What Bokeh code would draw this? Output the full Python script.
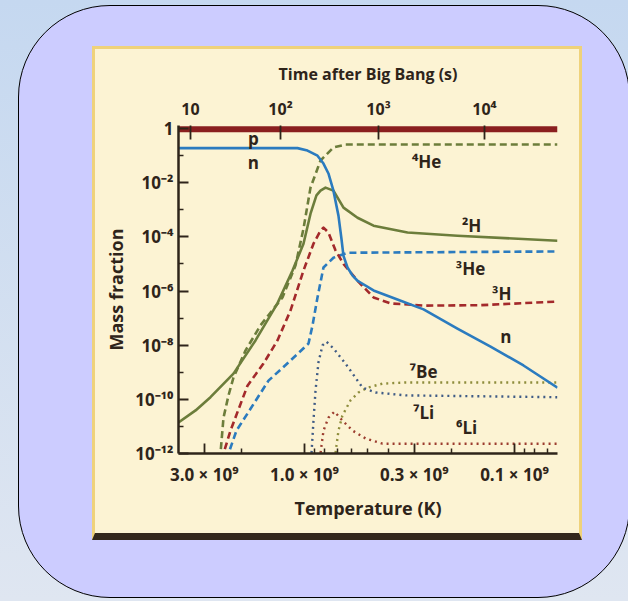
from bokeh.plotting import figure
from bokeh.layouts import column
from bokeh.models import (Range1d, LogAxis, FixedTicker, CustomJSTickFormatter,
                          ColumnDataSource)
from bokeh.embed import file_html
from bokeh.resources import INLINE
from bokeh.core.properties import value

# ---------------- data (temperature in units of 10^9 K, mass fraction) -------------
p_T = [3.98, 0.0624]
p_X = [0.95, 0.95]

n_T = [3.98, 1.080, 0.968, 0.867, 0.812, 0.769, 0.728, 0.689, 0.667, 0.652, 0.624,
       0.59, 0.559, 0.469, 0.361, 0.271, 0.187, 0.130, 0.0906, 0.0624]
n_X = [0.19, 0.19, 0.154, 0.10, 0.051, 0.022, 5.1e-3, 6.1e-4, 8.7e-5, 2.0e-5, 7.4e-6,
       3.7e-6, 2.4e-6, 1.05e-6, 4.9e-7, 2.1e-7, 4.1e-8, 8.9e-9, 1.78e-9, 2.7e-10]

He4_T = [2.596, 2.512, 2.43, 2.30, 2.178, 1.91, 1.62, 1.273, 1.104, 1.011, 0.936,
         0.839, 0.728, 0.638, 0.0624]
He4_X = [2.3e-13, 1e-12, 2.1e-11, 1.4e-10, 6.4e-10, 6.3e-9, 5.4e-8, 5.8e-7, 8.7e-6,
         2.0e-4, 6.6e-3, 0.066, 0.2, 0.257, 0.257]

H2_T = [3.98, 3.30, 2.803, 2.178, 1.711, 1.345, 1.14, 1.011, 0.936, 0.877, 0.839,
        0.794, 0.728, 0.652, 0.559, 0.469, 0.323, 0.187, 0.0624]
H2_X = [1.4e-11, 3.9e-11, 1.2e-10, 8.9e-10, 1.5e-8, 3.5e-7, 5.7e-6, 5.6e-5, 7.2e-4,
        3.4e-3, 5.1e-3, 6.6e-3, 5.1e-3, 1.2e-3, 5.1e-4, 2.6e-4, 1.45e-4, 1.1e-4, 7.2e-5]

H3_T = [2.512, 2.43, 2.251, 1.868, 1.568, 1.345, 1.166, 1.011, 0.906, 0.839, 0.812,
        0.769, 0.712, 0.652, 0.559, 0.469, 0.39, 0.271, 0.145, 0.0624]
H3_X = [2.3e-13, 1e-12, 7e-12, 3.2e-10, 2.1e-9, 1.5e-8, 1.9e-7, 5.7e-6, 5.6e-5, 1.7e-4,
        2.2e-4, 1.45e-4, 3.2e-5, 1.0e-5, 2.4e-6, 5.8e-7, 3.5e-7, 2.9e-7, 3.0e-7, 4.1e-7]

He3_T = [2.377, 2.30, 2.108, 1.868, 1.484, 1.166, 0.957, 0.916, 0.867, 0.812, 0.728,
         0.624, 0.0624]
He3_X = [2.3e-13, 1e-12, 7e-12, 3.0e-11, 4.9e-10, 2.7e-9, 1.15e-8, 5.3e-8, 5.8e-7,
         7.4e-6, 1.7e-5, 2.6e-5, 2.9e-5]

Be7_T = [0.728, 0.712, 0.689, 0.66, 0.604, 0.553, 0.501, 0.425, 0.33, 0.0624]
Be7_X = [2.3e-13, 1e-12, 7e-12, 2.5e-11, 9.1e-11, 1.8e-10, 2.7e-10, 3.8e-10, 4.2e-10,
         4.2e-10]

Li7_T = [0.936, 0.926, 0.906, 0.886, 0.858, 0.821, 0.786, 0.728, 0.638, 0.529, 0.459,
         0.33, 0.0624]
Li7_X = [2.3e-13, 1e-12, 1.65e-11, 2.1e-10, 2.3e-9, 9.8e-9, 1.35e-8, 7.6e-9, 2.1e-9,
         2.7e-10, 1.8e-10, 1.4e-10, 1.2e-10]

Li6_T = [0.858, 0.839, 0.812, 0.769, 0.72, 0.66, 0.59, 0.512, 0.425, 0.0624]
Li6_X = [2.3e-13, 1e-12, 7e-12, 2.1e-11, 3.5e-11, 1.65e-11, 7e-12, 3.6e-12, 2.3e-12,
         2.3e-12]

# curve labels
lab_text = ["p", "n", "⁴He", "²H", "³He", "³H", "n", "⁷Be", "⁷Li", "⁶Li"]
lab_T = [1.75, 1.75, 0.262, 0.160, 0.162, 0.115, 0.110, 0.271, 0.271, 0.169]
lab_X = [0.43, 0.055, 0.06, 2.6e-4, 6.8e-6, 8.1e-7, 2.1e-8, 1.07e-9, 3.3e-11, 9.1e-12]

# axes
temp_major = [3.0, 1.0, 0.3, 0.1]
temp_minor = [2.0, 0.9, 0.8, 0.7, 0.6, 0.5, 0.4, 0.2, 0.09, 0.08, 0.07]
temp_labels = ["3.0 × 10⁹", "1.0 × 10⁹", "0.3 × 10⁹", "0.1 × 10⁹"]
time_T = [3.49, 1.30, 0.444, 0.139]
time_labels = ["10", "10²", "10³", "10⁴"]
frac_major = [1e-12, 1e-10, 1e-8, 1e-6, 1e-4, 1e-2, 1.0]
frac_minor = [1e-11, 1e-9, 1e-7, 1e-5, 1e-3, 1e-1]

# ---------------- styling ----------------
CREAM = "#fcf3d3"
INK = "#2e241a"
FONT = "Open Sans"
RED = "#8a1f1f"
BLUE = "#2b7bbf"
GREEN = "#6c7d3b"
DRED = "#a3292b"
OLIVE = "#8e8d3c"
SLATE = "#3f5b85"
BROWN = "#9c3d2f"

p = figure(x_axis_type="log", y_axis_type="log",
           x_range=Range1d(3.98, 0.0624), y_range=Range1d(1e-12, 1.3),
           frame_width=379, frame_height=328,
           min_border_left=83, min_border_right=22, min_border_top=76, min_border_bottom=80,
           output_backend="svg", toolbar_location=None,
           background_fill_color=CREAM, border_fill_color=CREAM, outline_line_color=None)
p.grid.visible = False

def styl(ax):
    ax.axis_line_color = INK
    ax.axis_line_width = 2.5
    ax.major_tick_line_color = INK
    ax.minor_tick_line_color = INK
    ax.major_tick_line_width = 1.8
    ax.minor_tick_line_width = 1.5
    ax.major_tick_out = 0
    ax.minor_tick_out = 0
    ax.major_tick_in = 10
    ax.minor_tick_in = 5
    ax.major_label_text_font = FONT
    ax.major_label_text_font_style = "bold"
    ax.major_label_text_font_size = "17px"
    ax.major_label_text_color = INK
    ax.axis_label_text_font = FONT
    ax.axis_label_text_font_style = "bold"
    ax.axis_label_text_font_size = "18px"
    ax.axis_label_text_color = INK

xa = p.xaxis[0]
styl(xa)
xa.ticker = FixedTicker(ticks=temp_major, minor_ticks=temp_minor)
xa.formatter = CustomJSTickFormatter(args=dict(vals=temp_major, labels=temp_labels), code="""
    const i = vals.findIndex(v => Math.abs(v - tick) <= 1e-6 * v);
    return i >= 0 ? labels[i] : "";
""")
xa.axis_label = "Temperature (K)"
xa.major_label_standoff = 9
xa.axis_label_standoff = 7

ya = p.yaxis[0]
styl(ya)
ya.ticker = FixedTicker(ticks=frac_major, minor_ticks=frac_minor)
ya.formatter = CustomJSTickFormatter(code="""
    const sup = {"-": "⁻", "0": "⁰", "1": "¹", "2": "²", "3": "³", "4": "⁴",
                 "5": "⁵", "6": "⁶", "7": "⁷", "8": "⁸", "9": "⁹"};
    const e = Math.round(Math.log10(tick));
    if (e === 0) return "1";
    return "10" + String(e).split("").map(c => sup[c]).join("");
""")
ya.axis_label = "Mass fraction"
ya.major_label_standoff = 5
ya.axis_label_standoff = 4

top = LogAxis(ticker=FixedTicker(ticks=time_T, minor_ticks=[]),
              formatter=CustomJSTickFormatter(args=dict(vals=time_T, labels=time_labels), code="""
    const i = vals.findIndex(v => Math.abs(v - tick) <= 1e-6 * v);
    return i >= 0 ? labels[i] : "";
"""))
styl(top)
top.axis_line_color = None
top.major_tick_in = 14
top.axis_label = "Time after Big Bang (s)"
top.axis_label_text_font_size = "16px"
top.major_label_text_font_size = "16px"
top.major_label_standoff = 6
top.axis_label_standoff = 10
p.add_layout(top, "above")

def curve(T, X, color, dash="solid", width=2.6):
    src = ColumnDataSource(dict(x=T, y=X))
    p.line("x", "y", source=src, line_color=color, line_width=width, line_dash=dash,
           line_join="round")

curve(Be7_T, Be7_X, OLIVE, "2 4", 2.4)
curve(Li7_T, Li7_X, SLATE, "2 4", 2.4)
curve(Li6_T, Li6_X, BROWN, "2 4", 2.4)
curve(He3_T, He3_X, BLUE, "7 4")
curve(H3_T, H3_X, DRED, "7 4")
curve(He4_T, He4_X, GREEN, "7 4")
curve(H2_T, H2_X, GREEN)
curve(n_T, n_X, BLUE)
curve(p_T, p_X, RED, "solid", 6)

lab_src = ColumnDataSource(dict(x=lab_T, y=lab_X, t=lab_text))
p.text("x", "y", text="t", source=lab_src, text_font=value(FONT), text_font_style="bold",
       text_font_size="17px", text_color=INK, text_align="center", text_baseline="middle")

panel = column(p, styles={"border": "3px solid #efd27a", "border-bottom": "7px solid #33271c",
                          "background-color": CREAM},
               margin=(40, 0, 0, 73))
lav = column(panel, width=612, height=593, margin=(5, 0, 0, 18),
             styles={"background-color": "#ccccff", "border": "1px solid #000",
                     "border-radius": "92px"})
root = column(lav, width=628, height=601,
              styles={"background": "linear-gradient(#c5d8f0, #dfe6f1)", "overflow": "hidden"})

open("out.html", "w").write(file_html(root, INLINE))
